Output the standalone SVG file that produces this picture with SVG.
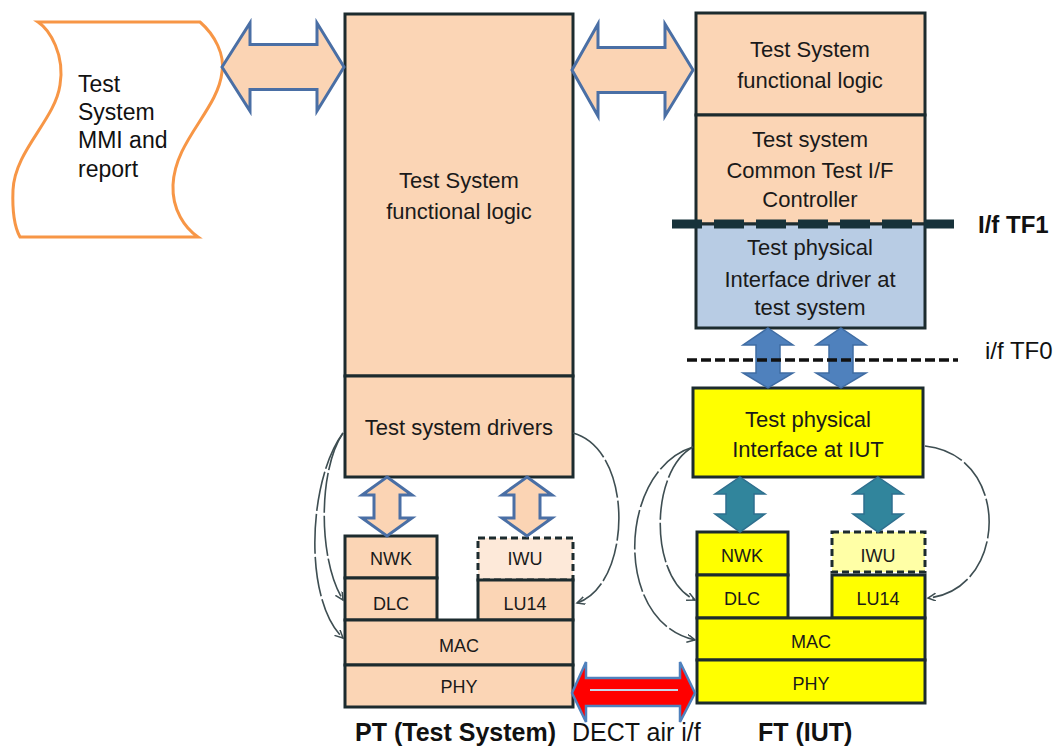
<svg xmlns="http://www.w3.org/2000/svg" width="1058" height="746" viewBox="0 0 1058 746" xml:space="preserve">
<style>
.box{stroke:#1C2B2E;stroke-width:3}
.peach{fill:#FBD5B5}
.blue{fill:#B8CCE4}
.yel{fill:#FFFF00}
.dash{stroke-dasharray:7 4}
.t{font-family:"Liberation Sans",Arial,sans-serif;font-size:22px;fill:#1a1a1a;text-anchor:middle}
.s{font-family:"Liberation Sans",Arial,sans-serif;font-size:18px;fill:#1a1a1a;text-anchor:middle}
.lbl{font-family:"Liberation Sans",Arial,sans-serif;font-size:25px;fill:#111}
.pa{fill:#FBD4B4;stroke:#4A6FA5;stroke-width:3;stroke-linejoin:miter}
.ba{fill:#4F81BD;stroke:#3F6CA3;stroke-width:1.5}
.ta{fill:#31859C;stroke:#2E6F8E;stroke-width:1.5}
.cv{fill:none;stroke:#3E4E52;stroke-width:1.6;stroke-dasharray:40 3}
</style>
<defs>
<marker id="open" markerWidth="10" markerHeight="10" refX="8" refY="4" orient="auto" markerUnits="userSpaceOnUse">
<path d="M0,0 L8,4 L0,8" fill="none" stroke="#3E4E52" stroke-width="1.5"/>
</marker>
</defs>
<g id="mmi">
<path d="M38,22 L200,22 C215,35 225,55 222,72 C218,110 175,140 173,185 C172,210 185,228 198,237 L20,237 C15,228 12,215 13,190 C15,150 55,120 60,85 C65,55 50,30 38,22 Z" fill="#fff" stroke="#F79646" stroke-width="3"/>
<text class="lbl" x="78" y="92" style="font-size:23px">Test</text>
<text class="lbl" x="78" y="120" style="font-size:23px">System</text>
<text class="lbl" x="78" y="148" style="font-size:23px">MMI and</text>
<text class="lbl" x="78" y="177" style="font-size:23px">report</text>
</g>
<g id="pt-logic">
<rect class="box peach" x="345" y="14" width="228" height="362"/>
<text class="t" x="459" y="188">Test  System</text>
<text class="t" x="459" y="219">functional logic</text>
</g>
<g id="pt-drivers">
<rect class="box peach" x="345" y="376" width="228" height="101"/>
<text class="t" x="459" y="435">Test system drivers</text>
</g>
<g id="pt-nwk"><rect class="box peach" x="345" y="536" width="92" height="42"/><text class="s" x="391" y="565">NWK</text></g>
<g id="pt-dlc"><rect class="box peach" x="345" y="578" width="92" height="42"/><text class="s" x="391" y="610">DLC</text></g>
<g id="pt-iwu"><rect class="box dash" fill="#FDE9D9" x="478" y="538" width="95" height="42"/><text class="s" x="525" y="565">IWU</text></g>
<g id="pt-lu14"><rect class="box peach" x="478" y="580" width="95" height="40"/><text class="s" x="525" y="610">LU14</text></g>
<g id="pt-mac"><rect class="box peach" x="345" y="620" width="228" height="45"/><text class="s" x="459" y="652">MAC</text></g>
<g id="pt-phy"><rect class="box peach" x="345" y="665" width="228" height="42"/><text class="s" x="459" y="693">PHY</text></g>
<g id="ft-logic">
<rect class="box peach" x="696" y="13" width="229" height="102"/>
<text class="t" x="810" y="57">Test  System</text>
<text class="t" x="810" y="88">functional logic</text>
</g>
<g id="ft-controller">
<rect class="box peach" x="696" y="115" width="229" height="109"/>
<text class="t" x="810" y="147">Test system</text>
<text class="t" x="810" y="178">Common Test I/F</text>
<text class="t" x="810" y="207">Controller</text>
</g>
<g id="ft-driver">
<rect class="box blue" x="696" y="224" width="229" height="104"/>
<text class="t" x="810" y="255">Test physical</text>
<text class="t" x="810" y="287">Interface  driver at</text>
<text class="t" x="810" y="315">test system</text>
</g>
<g id="ft-iut">
<rect class="box yel" x="693" y="388" width="230" height="89"/>
<text class="t" x="808" y="427">Test physical</text>
<text class="t" x="808" y="457">Interface  at  IUT</text>
</g>
<g id="ft-nwk"><rect class="box yel" x="697" y="532" width="91" height="43"/><text class="s" x="742" y="562">NWK</text></g>
<g id="ft-dlc"><rect class="box yel" x="697" y="575" width="91" height="43"/><text class="s" x="742" y="605">DLC</text></g>
<g id="ft-iwu"><rect class="box dash" fill="#FFFFA6" x="832" y="532" width="93" height="40"/><text class="s" x="878" y="562">IWU</text></g>
<g id="ft-lu14"><rect class="box yel" x="832" y="575" width="93" height="43"/><text class="s" x="878" y="605">LU14</text></g>
<g id="ft-mac"><rect class="box yel" x="697" y="618" width="228" height="42"/><text class="s" x="811" y="648">MAC</text></g>
<g id="ft-phy"><rect class="box yel" x="697" y="660" width="228" height="43"/><text class="s" x="811" y="690">PHY</text></g>
<g id="interfaces">
<line x1="672" y1="224" x2="957" y2="224" stroke="#17323A" stroke-width="9" stroke-dasharray="30 12"/>
<text class="lbl" x="978" y="233" style="font-size:24px;font-weight:bold">I/f TF1</text>
<text class="lbl" x="985" y="359" style="font-size:24px">i/f TF0</text>
</g>
<g id="connectors">
<path class="pa" d="M222,67 L250,23 L250,44.5 L317,44.5 L317,23 L344,67 L317,111 L317,89.5 L250,89.5 L250,111 Z"/>
<path class="pa" d="M572,70 L598,24 L598,47.5 L665,47.5 L665,24 L693,70 L665,116 L665,92.5 L598,92.5 L598,116 Z"/>
<path class="pa" d="M387,477 L412,495 L400,495 L400,518 L412,518 L387,536 L362,518 L374,518 L374,495 L362,495 Z"/>
<path class="pa" d="M527,477 L552,495 L540,495 L540,518 L552,518 L527,536 L502,518 L514,518 L514,495 L502,495 Z"/>
<path class="ba" d="M768,328 L793,345 L780,345 L780,373 L793,373 L768,388 L743,373 L756,373 L756,345 L743,345 Z"/>
<path class="ba" d="M841,328 L866,345 L853,345 L853,373 L866,373 L841,388 L816,373 L829,373 L829,345 L816,345 Z"/>
<line x1="687" y1="360" x2="958" y2="360" stroke="#111" stroke-width="3.5" stroke-dasharray="10 4"/>
<path class="ta" d="M740,477 L765,494 L754,494 L754,514 L765,514 L740,532 L715,514 L726,514 L726,494 L715,494 Z"/>
<path class="ta" d="M878,477 L903,494 L892,494 L892,514 L903,514 L878,532 L853,514 L864,514 L864,494 L853,494 Z"/>
<path d="M572,693 L586,662 L586,678 L680,678 L680,662 L695,693 L680,722 L680,706 L586,706 L586,722 Z" fill="#FF0000" stroke="#4F81BD" stroke-width="2.5"/>
<line x1="590" y1="690" x2="678" y2="690" stroke="#C7D5EA" stroke-width="2"/>
<path class="cv" d="M343,433 C318,470 318,560 343,600" marker-end="url(#open)"/>
<path class="cv" d="M343,433 C308,480 303,600 343,638" marker-end="url(#open)"/>
<path class="cv" d="M573,433 C635,450 632,585 577,603" marker-end="url(#open)"/>
<path class="cv" d="M693,447 C650,470 648,578 695,600" marker-end="url(#open)"/>
<path class="cv" d="M693,447 C618,470 612,622 695,640" marker-end="url(#open)"/>
<path class="cv" d="M925,446 C1012,455 1008,590 928,598" marker-end="url(#open)"/>
</g>
<g id="labels">
<text class="lbl" x="355" y="741" style="font-weight:bold">PT (Test System)</text>
<text class="lbl" x="572" y="741">DECT air i/f</text>
<text class="lbl" x="758" y="741" style="font-weight:bold">FT (IUT)</text>
</g>
</svg>
